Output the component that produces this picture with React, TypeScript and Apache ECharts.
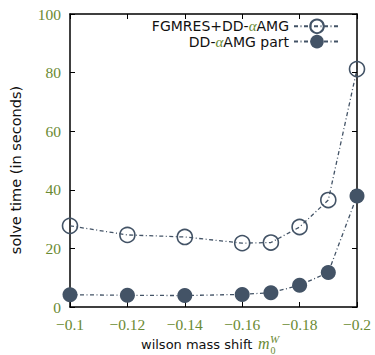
import React, { useEffect, useRef } from "react";
import * as echarts from "echarts";

// Wilson mass shifts (x) and solve times in seconds
const massShifts = [-0.1, -0.12, -0.14, -0.16, -0.17, -0.18, -0.19, -0.2];
const totalTime = [27.7, 24.6, 23.9, 21.8, 22.0, 27.3, 36.5, 81.2];
const amgPartTime = [4.2, 4.0, 3.9, 4.3, 4.9, 7.4, 11.8, 37.9];
const seriesNames = ["FGMRES+DD-αAMG", "DD-αAMG part"];

const INK = "#435366";
const GREEN = "#6a8a32";
const SERIF = "'Liberation Serif', 'DejaVu Serif', serif";
const SANS = "'DejaVu Sans', 'Noto Sans', sans-serif";

const fmtTick = (v: number) => {
  const s = String(Math.round(Math.abs(v) * 100) / 100);
  return v < 0 ? "\u2212" + s : s;
};

const legendLabel = (name: string) =>
  name
    .split("α")
    .map((part) => (part ? `{t|${part}}` : ""))
    .join("{g|α}");

export default function App() {
  const ref = useRef<HTMLDivElement>(null);

  useEffect(() => {
    if (!ref.current) return;
    const chart = echarts.init(ref.current, undefined, { renderer: "svg" });
    const lineStyle = { color: INK, width: 1.3, type: [4, 2.5, 1, 2.5] as number[] };
    const xBase = {
      type: "value" as const,
      inverse: true,
      min: -0.2,
      max: -0.1,
      interval: 0.02,
      axisLine: { show: true, onZero: false, lineStyle: { color: "#000", width: 1.5 } },
      axisTick: { show: true, inside: true, length: 5, lineStyle: { color: "#000", width: 1 } },
      splitLine: { show: false },
    };
    const yBase = {
      type: "value" as const,
      min: 0,
      max: 100,
      interval: 20,
      axisLine: { show: true, onZero: false, lineStyle: { color: "#000", width: 1.5 } },
      axisTick: { show: true, inside: true, length: 5, lineStyle: { color: "#000", width: 1 } },
      splitLine: { show: false },
    };
    chart.setOption({
      animation: false,
      backgroundColor: "#fff",
      grid: { left: 70, right: 18, top: 14, bottom: 48, containLabel: false },
      legend: {
        orient: "vertical",
        right: 34,
        top: 18.5,
        padding: 0,
        itemGap: 0,
        itemWidth: 46,
        itemHeight: 17,
        align: "right",
        data: seriesNames,
        formatter: (name: string) => legendLabel(name),
        textStyle: {
          rich: {
            t: { fontFamily: SANS, fontSize: 14, lineHeight: 16, color: "#111" },
            g: {
              fontFamily: SERIF,
              fontStyle: "italic",
              fontSize: 15,
              lineHeight: 16,
              color: GREEN,
            },
          },
        },
      },
      xAxis: [
        {
          ...xBase,
          position: "bottom",
          axisLabel: {
            show: true,
            margin: 9,
            formatter: fmtTick,
            fontFamily: SERIF,
            fontSize: 15.5,
            color: GREEN,
          },
        },
        { ...xBase, position: "top", axisLabel: { show: false } },
      ],
      yAxis: [
        {
          ...yBase,
          position: "left",
          axisLabel: {
            show: true,
            margin: 9,
            fontFamily: SERIF,
            fontSize: 15.5,
            color: GREEN,
          },
        },
        { ...yBase, position: "right", axisLabel: { show: false } },
      ],
      graphic: [
        {
          type: "text",
          x: 16,
          y: 170,
          rotation: Math.PI / 2,
          style: {
            text: "solve time (in seconds)",
            font: `14.5px ${SANS}`,
            fill: "#111",
            align: "center",
            verticalAlign: "middle",
          },
        },
        {
          type: "text",
          x: 141,
          y: 351,
          style: {
            text: "wilson mass shift",
            font: `13px ${SANS}`,
            fill: "#111",
            verticalAlign: "bottom",
          },
        },
        {
          type: "text",
          x: 258,
          y: 351,
          style: {
            text: "m",
            font: `italic 16px ${SERIF}`,
            fill: GREEN,
            verticalAlign: "bottom",
          },
        },
        {
          type: "text",
          x: 270,
          y: 344,
          style: {
            text: "W",
            font: `italic 11px ${SERIF}`,
            fill: GREEN,
            verticalAlign: "bottom",
          },
        },
        {
          type: "text",
          x: 270.5,
          y: 355,
          style: {
            text: "0",
            font: `10px ${SERIF}`,
            fill: GREEN,
            verticalAlign: "bottom",
          },
        },
      ],
      series: [
        {
          name: seriesNames[0],
          type: "line",
          xAxisIndex: 0,
          yAxisIndex: 0,
          data: massShifts.map((x, i) => [x, totalTime[i]]),
          symbol: "circle",
          symbolSize: 15,
          itemStyle: { color: "rgba(255,255,255,0)", borderColor: INK, borderWidth: 1.6 },
          lineStyle,
          z: 3,
        },
        {
          name: seriesNames[1],
          type: "line",
          xAxisIndex: 0,
          yAxisIndex: 0,
          data: massShifts.map((x, i) => [x, amgPartTime[i]]),
          symbol: "circle",
          symbolSize: 15,
          itemStyle: { color: INK, borderColor: INK, borderWidth: 0 },
          lineStyle,
          z: 4,
        },
      ],
    });
    return () => chart.dispose();
  }, []);

  return (
    <div
      ref={ref}
      style={{ position: "fixed", left: 0, top: 0, width: 375, height: 355 }}
    />
  );
}
